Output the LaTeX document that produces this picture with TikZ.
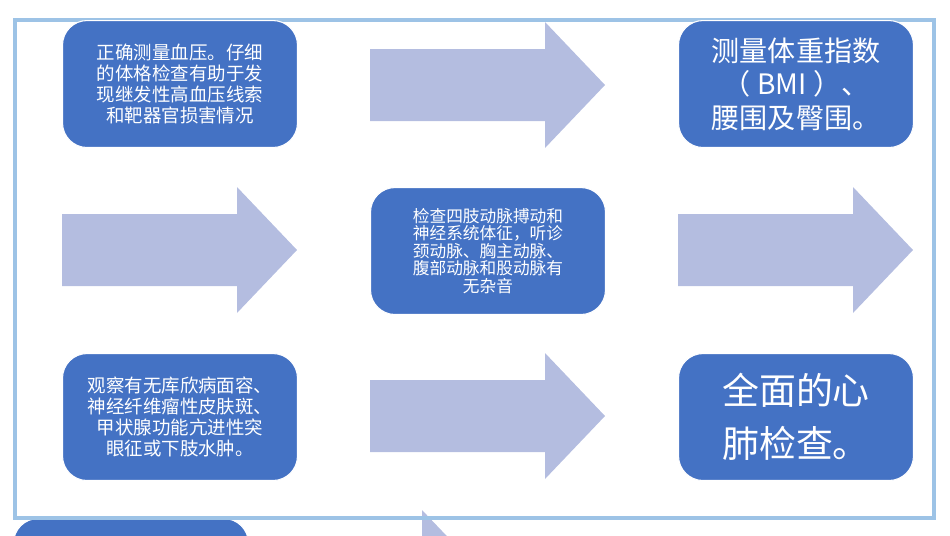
\documentclass[tikz,border=0pt]{standalone}
\usepackage{fontspec}
\setmainfont{Noto Sans CJK SC}
\usetikzlibrary{positioning}
\definecolor{boxblue}{HTML}{4472C4}
\definecolor{arrowblue}{HTML}{B4BDE0}
\definecolor{framec}{HTML}{9DC3E6}
\tikzset{
  box/.style={draw=white, line width=0.6pt, fill=boxblue, rounded corners=14pt,
    minimum width=4.7cm, minimum height=2.54cm, text=white, align=center,
    inner sep=2pt},
  small/.style={font=\fontsize{10.5}{12}\selectfont},
  tiny/.style={font=\fontsize{9.5}{10}\selectfont},
  big/.style={font=\fontsize{16}{19}\selectfont},
  huge/.style={font=\fontsize{21}{30}\selectfont}
}
% right arrow: x0,y0 = top left of bounding box (px)
\newcommand{\rarrow}[2]{%
  \fill[arrowblue] (#1,#2+27) -- (#1+175,#2+27) -- (#1+175,#2) -- (#1+235,#2+63)
    -- (#1+175,#2+126) -- (#1+175,#2+99) -- (#1,#2+99) -- cycle;}
\begin{document}
\begin{tikzpicture}[x=0.02cm, y=-0.02cm]
\useasboundingbox (0,0) rectangle (950,535);

% ==== bottom row (cut off) ====
\node[box, anchor=north west] (cut) at (13,518) {};
\begin{scope}
\clip (0,0) rectangle (950,535);
\rarrow{247}{510}
\end{scope}

% ==== frame ====
\draw[framec, line width=2.6pt] (15,20) rectangle (934,518);

% ==== row 1 ====
\node[box, small, anchor=north west] (pressure) at (62,20)
  {正确测量血压。仔细\\的体格检查有助于发\\现继发性高血压线索\\和靶器官损害情况};
\rarrow{370}{22}
\node[box, big, anchor=north west] (bmi) at (678,20)
  {测量体重指数\\（ BMI ）、\\腰围及臀围。};

% ==== row 2 ====
\rarrow{62}{187}
\node[box, tiny, anchor=north west] (pulse) at (370,187)
  {检查四肢动脉搏动和\\神经系统体征，听诊\\颈动脉、胸主动脉、\\腹部动脉和股动脉有\\无杂音};
\rarrow{678}{187}

% ==== row 3 ====
\node[box, small, anchor=north west] (skin) at (62,353)
  {观察有无库欣病面容、\\神经纤维瘤性皮肤斑、\\甲状腺功能亢进性突\\眼征或下肢水肿。};
\rarrow{370}{353}
\node[box, huge, anchor=north west] (heart) at (678,353)
  {全面的心\\肺检查。};
\end{tikzpicture}
\end{document}
